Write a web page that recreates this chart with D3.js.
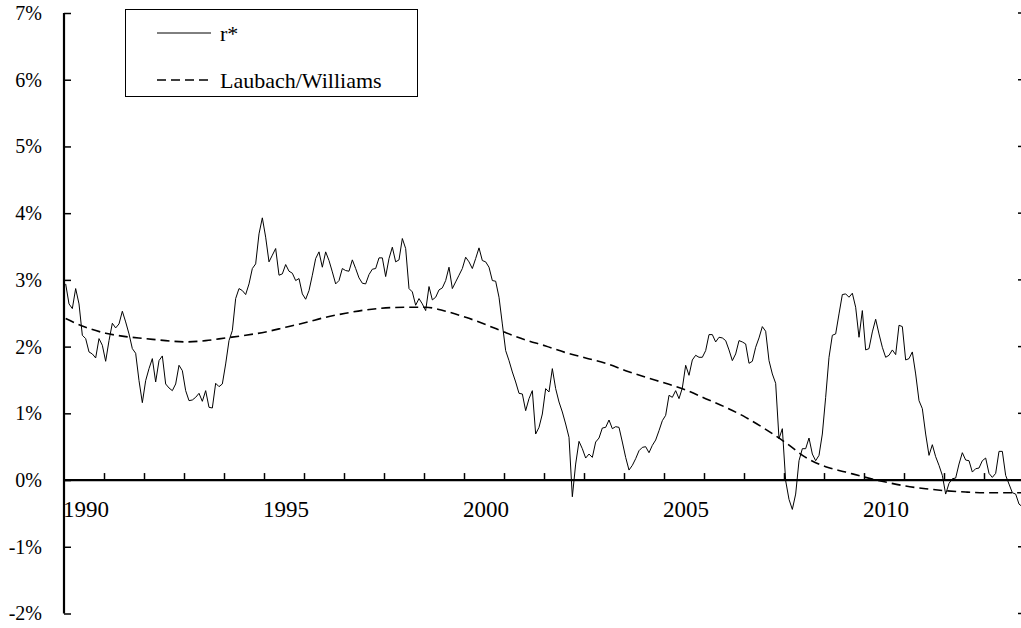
<!DOCTYPE html>
<html><head><meta charset="utf-8">
<script src="https://cdn.jsdelivr.net/npm/d3@7"></script>
<style>
html,body{margin:0;padding:0;background:#fff;}
svg{display:block;}
text{font-family:"Liberation Serif","Times New Roman",serif;fill:#000;}
</style></head>
<body>
<svg id="c" width="1021" height="628"></svg>
<script>
// Monthly r* estimates, Jan 1990 – Dec 2013 (percent)
const rStar = [
2.94,2.64,2.57,2.87,2.64,2.17,2.12,1.92,1.89,1.83,2.12,2.02,
1.78,2.09,2.35,2.28,2.34,2.53,2.37,2.19,1.97,1.90,1.49,1.16,
1.49,1.67,1.82,1.47,1.79,1.86,1.44,1.38,1.34,1.44,1.72,1.64,
1.34,1.19,1.20,1.24,1.30,1.18,1.34,1.09,1.08,1.45,1.40,1.44,
1.74,2.09,2.24,2.72,2.87,2.84,2.78,2.94,3.17,3.24,3.69,3.93,
3.64,3.27,3.37,3.47,3.07,3.09,3.23,3.13,3.10,2.99,3.02,2.79,
2.71,2.84,3.07,3.32,3.42,3.19,3.42,3.29,3.12,2.94,2.99,3.17,
3.14,3.13,3.30,3.17,3.03,2.95,2.94,3.08,3.16,3.17,3.33,3.33,
3.05,3.32,3.49,3.27,3.30,3.62,3.47,2.87,2.82,2.62,2.72,2.64,
2.54,2.90,2.70,2.74,2.85,2.88,2.99,3.19,2.87,2.97,3.07,3.17,
3.34,3.27,3.17,3.32,3.48,3.29,3.27,3.19,2.99,2.98,2.74,2.34,
1.94,1.79,1.62,1.47,1.30,1.29,1.04,1.22,1.34,0.69,0.79,0.99,
1.37,1.32,1.67,1.37,1.17,1.02,0.84,0.64,-0.25,0.24,0.58,0.47,
0.33,0.39,0.34,0.57,0.63,0.78,0.79,0.90,0.77,0.80,0.79,0.57,
0.34,0.15,0.22,0.32,0.44,0.49,0.50,0.41,0.52,0.60,0.74,0.89,
0.97,1.27,1.24,1.34,1.22,1.38,1.72,1.57,1.80,1.87,1.84,1.84,
1.94,2.18,2.18,2.07,2.14,2.13,2.09,1.95,1.79,1.89,2.09,2.07,
2.04,1.75,1.78,1.99,2.13,2.30,2.23,1.79,1.59,1.45,0.62,0.77,
-0.01,-0.29,-0.44,-0.21,0.29,0.47,0.47,0.63,0.39,0.29,0.37,0.69,
1.24,1.84,2.17,2.19,2.49,2.78,2.79,2.74,2.80,2.59,2.14,2.54,
1.95,1.97,2.22,2.41,2.19,1.99,1.84,1.87,1.95,1.88,2.32,2.30,
1.80,1.82,1.92,1.59,1.19,1.07,0.69,0.37,0.53,0.35,0.22,0.07,
-0.21,-0.05,0.02,0.03,0.24,0.41,0.30,0.29,0.12,0.17,0.18,0.29,
0.33,0.10,0.04,0.10,0.43,0.43,0.07,-0.06,-0.19,-0.21,-0.36,-0.40
];
// Laubach/Williams estimate, read every 6 months (month index, percent)
const lwMonths = [0,6,12,18,24,30,36,42,48,54,60,66,72,78,84,90,96,102,108,114,120,126,132,138,144,150,156,162,168,174,180,186,192,198,204,210,216,222,228,234,240,246,252,258,264,270,276,282,287];
const lwValues = [2.42,2.29,2.20,2.15,2.12,2.09,2.07,2.09,2.13,2.17,2.22,2.29,2.36,2.44,2.50,2.55,2.58,2.59,2.59,2.53,2.44,2.33,2.21,2.10,2.01,1.91,1.83,1.75,1.64,1.54,1.45,1.35,1.22,1.09,0.94,0.76,0.56,0.34,0.20,0.12,0.04,-0.03,-0.09,-0.13,-0.16,-0.18,-0.19,-0.19,-0.19];
const yearLabels = ["1990","1995","2000","2005","2010"];
const yTicks = [-2,-1,0,1,2,3,4,5,6,7];
const seriesNames = ["r*","Laubach/Williams"];

const svg = d3.select("#c");
const x = d3.scaleLinear().domain([0, 288]).range([64, 1024]);
const y = d3.scaleLinear().domain([-2, 7]).range([613.5, 13]);

// right-edge small ticks
svg.append("g").selectAll("line").data(yTicks).join("line")
  .attr("x1", 1018).attr("x2", 1021)
  .attr("y1", d => y(d)).attr("y2", d => y(d))
  .attr("stroke", "#000").attr("stroke-width", 1.5);

// Y axis
const yAxis = svg.append("g").attr("transform", "translate(64,0)")
  .call(d3.axisLeft(y).tickValues(yTicks).tickSize(-7).tickPadding(22)
    .tickFormat(d => d + "%"));
yAxis.select(".domain").attr("stroke-width", 2.2).attr("d", `M0,${y(7)}V${y(-2)}`);
yAxis.selectAll(".tick line").attr("stroke-width", 1.5);
yAxis.selectAll("text").style("font-family", '"Liberation Serif",serif').style("font-size", "20px");

// X axis at 0%
const xAxis = svg.append("g").attr("transform", `translate(0,${y(0)})`)
  .call(d3.axisBottom(x).tickValues(d3.range(12, 289, 12)).tickSize(-7).tickFormat(""));
xAxis.select(".domain").attr("stroke-width", 2.2).attr("d", `M64,0H1021`);
xAxis.selectAll(".tick line").attr("stroke-width", 1.5);

svg.append("g").selectAll("text").data(yearLabels).join("text")
  .attr("x", d => x((+d - 1990) * 12) - 1)
  .attr("y", y(0) + 37)
  .attr("text-anchor", "start")
  .style("font-size", "23px")
  .text(d => d);

// Lines
const rLine = d3.line().x((d, i) => x(i + 0.5)).y(d => y(d));
svg.append("path").datum(rStar).attr("d", rLine)
  .attr("fill", "none").attr("stroke", "#000").attr("stroke-width", 1)
  .attr("stroke-linejoin", "round");

const lwData = lwMonths.map((m, i) => [m, lwValues[i]]);
const lwLine = d3.line().x(d => x(d[0] + 0.5)).y(d => y(d[1])).curve(d3.curveMonotoneX);
svg.append("path").datum(lwData).attr("d", lwLine)
  .attr("fill", "none").attr("stroke", "#000").attr("stroke-width", 1.6)
  .attr("stroke-dasharray", "9,5");

// Legend
const lg = svg.append("g");
lg.append("rect").attr("x", 125.5).attr("y", 9.5).attr("width", 292).attr("height", 87)
  .attr("fill", "#fff").attr("stroke", "#000").attr("stroke-width", 1);
const legendRows = [{name: seriesNames[0], dash: null, yy: 33}, {name: seriesNames[1], dash: "9,5", yy: 80}];
legendRows.forEach(r => {
  lg.append("line").attr("x1", 157).attr("x2", 211).attr("y1", r.yy).attr("y2", r.yy)
    .attr("stroke", "#000").attr("stroke-width", r.dash ? 1.6 : 1)
    .attr("stroke-dasharray", r.dash);
  lg.append("text").attr("x", 220).attr("y", r.yy).attr("dy", "0.35em")
    .style("font-size", "22px").text(r.name);
});
</script>
</body></html>
